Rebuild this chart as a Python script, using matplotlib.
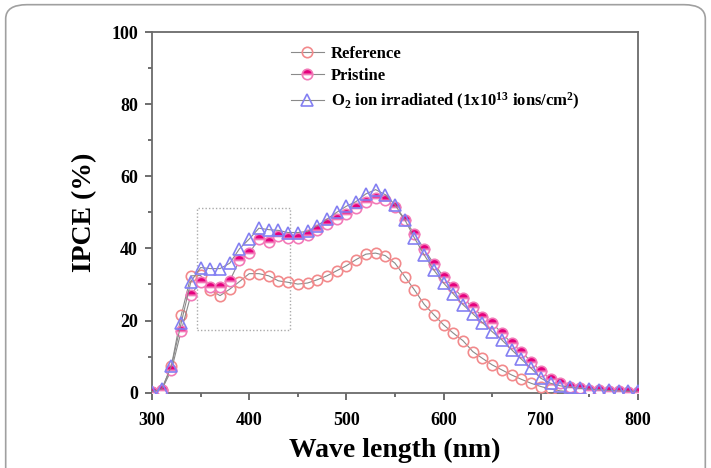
import matplotlib.pyplot as plt
from matplotlib.patches import FancyBboxPatch, Rectangle
from matplotlib.ticker import MultipleLocator

plt.rcParams['font.family'] = ['Liberation Serif', 'DejaVu Serif']
plt.rcParams['font.weight'] = 'bold'
plt.rcParams['mathtext.fontset'] = 'custom'
plt.rcParams['mathtext.rm'] = 'Liberation Serif:bold'
plt.rcParams['mathtext.it'] = 'Liberation Serif:bold'
plt.rcParams['mathtext.bf'] = 'Liberation Serif:bold'

wavelength = list(range(300, 801, 10))

reference = [0.3, 0.8, 7.5, 21.4, 32.4, 32.5, 28.5, 26.9, 28.7, 30.8,
             33.0, 33.0, 32.4, 31.0, 30.6, 30.1, 30.4, 31.3, 32.4, 33.8,
             35.2, 36.9, 38.4, 38.7, 38.0, 35.9, 32.2, 28.5, 24.5, 21.6,
             18.8, 16.5, 14.4, 11.4, 9.5, 7.7, 6.3, 4.9, 3.7, 2.6,
             1.7, 1.0, 0.5, 0.3, 0.2, 0.1, 0.1, 0.1, 0.0, 0.0, 0.0]
pristine = [0.2, 0.8, 6.3, 17.1, 27.1, 30.8, 29.3, 29.4, 31.0, 36.7,
            38.7, 42.6, 41.7, 43.3, 42.9, 42.9, 43.8, 45.2, 46.8, 48.1,
            49.6, 51.2, 52.8, 54.0, 53.3, 51.5, 48.0, 44.0, 39.8, 35.7,
            32.2, 29.2, 26.2, 23.7, 21.1, 19.3, 16.5, 13.7, 11.4, 8.6,
            6.0, 3.7, 2.6, 1.7, 1.2, 0.8, 0.6, 0.5, 0.4, 0.3, 0.3]
irradiated = [0.3, 1.0, 7.4, 19.3, 30.8, 34.7, 34.4, 34.4, 35.9, 39.9,
              42.6, 45.6, 45.2, 45.0, 44.4, 44.4, 44.7, 46.3, 48.1, 50.0,
              51.7, 53.0, 55.1, 56.3, 54.9, 52.1, 48.0, 42.9, 38.2, 34.0,
              30.4, 27.4, 24.4, 21.9, 19.4, 16.9, 14.6, 11.9, 9.3, 6.8,
              4.0, 2.6, 1.9, 1.5, 1.2, 1.0, 0.8, 0.6, 0.5, 0.4, 0.4]

fig = plt.figure(figsize=(7.11, 4.68), dpi=100)

# rounded frame around the whole figure
frame = FancyBboxPatch((0.008, -0.05), 0.984, 1.04,
                       boxstyle='round,pad=0,rounding_size=0.03',
                       transform=fig.transFigure, fill=False,
                       edgecolor='#a0a0a0', linewidth=1.2)
fig.patches.append(frame)

ax = fig.add_axes([0.2138, 0.161, 0.6835, 0.7706])

line_kw = dict(color='#8a8a8a', linewidth=0.8, markersize=7.5, markeredgewidth=1.2)
ax.plot(wavelength, reference, marker='o', markerfacecolor='none',
        markeredgecolor='#f28a8c', label='Reference', zorder=3, **line_kw)
ax.plot(wavelength, pristine, marker='o', fillstyle='top',
        markerfacecolor='#e5007e', markerfacecoloralt='white',
        markeredgecolor='#f27ab8', label='Pristine', zorder=4, **line_kw)
ax.plot(wavelength, irradiated, marker='^', markerfacecolor='none',
        markeredgecolor='#8480f2', label='O$_2$ ion irradiated (1x10$^{13}$ ions/cm$^2$)',
        zorder=5, **dict(line_kw, markersize=8.5))

# dotted box around the 350-440 nm region
ax.add_patch(Rectangle((346, 17.4), 96, 33.9, fill=False, edgecolor='#aaaaaa',
                       linestyle=(0, (1, 1.5)), linewidth=1.0, zorder=2))

ax.set_xlim(300, 800)
ax.set_ylim(0, 100)
ax.xaxis.set_major_locator(MultipleLocator(100))
ax.xaxis.set_minor_locator(MultipleLocator(50))
ax.yaxis.set_major_locator(MultipleLocator(20))
ax.yaxis.set_minor_locator(MultipleLocator(10))
ax.tick_params(which='both', direction='out', top=False, right=False,
               color='#555555', width=1.2, labelsize=13)
ax.tick_params(axis='x', pad=9)
ax.tick_params(axis='y', pad=5)
ax.tick_params(which='major', length=5)
ax.tick_params(which='minor', length=3)
for lab in ax.get_xticklabels() + ax.get_yticklabels():
    lab.set_fontweight('bold')
for s in ax.spines.values():
    s.set_color('#6b6b6b')
    s.set_linewidth(1.3)

ax.set_xlabel('Wave length (nm)', fontsize=20, fontweight='bold', labelpad=6)
ax.set_ylabel('IPCE (%)', fontsize=20, fontweight='bold', labelpad=10)

ax.legend(loc='upper left', bbox_to_anchor=(0.265, 0.99), frameon=False,
          prop={'weight': 'bold', 'size': 12}, handlelength=2.0,
          handletextpad=0.4, labelspacing=0.4, borderaxespad=0.2)

fig.savefig('out.png', dpi=100)
